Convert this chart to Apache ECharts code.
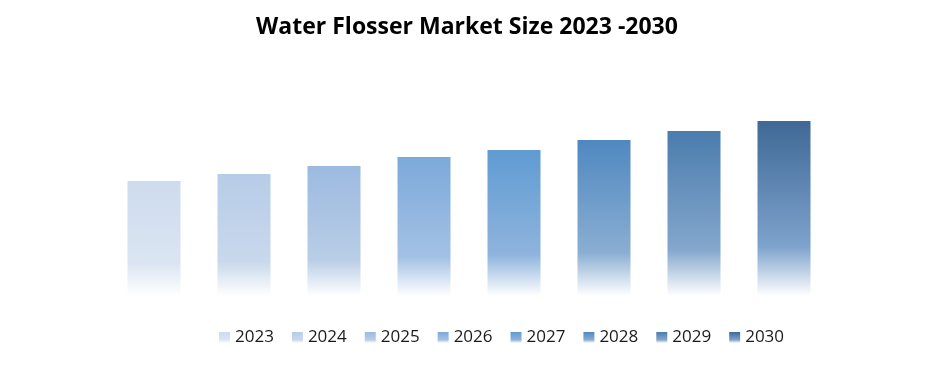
<!DOCTYPE html>
<html><head><meta charset="utf-8">
<script src="https://cdn.jsdelivr.net/npm/echarts@6/dist/echarts.min.js"></script>
<style>html,body{margin:0;padding:0;background:#fff}#c{width:934px;height:371px}</style>
</head><body><div id="c"></div>
<script>
const years = ['2023','2024','2025','2026','2027','2028','2029','2030'];
const values = [1.15, 1.22, 1.30, 1.39, 1.46, 1.56, 1.65, 1.75];
const topColors = ['#cddbee','#b7cce8','#9cbae1','#7ca9da','#5f9bd2','#4f88c0','#4a7cad','#3f6896'];
const midColors = ['#dbe5f2','#c9d8ec','#b9cde6','#a3c1e4','#8fb4dd','#8aaed2','#84a7cc','#7ea3cc'];

const series = years.map((y, i) => ({
  name: y,
  type: 'bar',
  stack: 'all',
  barWidth: 53,
  data: years.map((_, j) => j === i ? values[i] : '-'),
  itemStyle: {
    color: new echarts.graphic.LinearGradient(0, 0, 0, 1, [
      { offset: 0, color: topColors[i] },
      { offset: 0.72, color: midColors[i] },
      { offset: 1, color: '#ffffff' }
    ])
  }
}));

const chart = echarts.init(document.getElementById('c'), null, { renderer: 'canvas' });
chart.setOption({
  animation: false,
  backgroundColor: '#ffffff',
  title: {
    text: 'Water Flosser Market Size 2023 -2030',
    left: 'center', top: 11,
    textStyle: { fontFamily: 'Open Sans', fontWeight: 'bold', fontSize: 23, color: '#000' }
  },
  legend: {
    top: 324, left: 214,
    itemWidth: 11, itemHeight: 11, itemGap: 18,
    icon: 'rect',
    textStyle: { fontFamily: 'Open Sans', fontSize: 17, color: '#1a1a1a' },
    data: years
  },
  grid: { left: 109, width: 720, bottom: 75, top: 96 },
  xAxis: {
    type: 'category', data: years,
    axisLine: { show: false }, axisTick: { show: false }, axisLabel: { show: false }
  },
  yAxis: {
    type: 'value', min: 0, max: 2,
    axisLine: { show: false }, axisTick: { show: false }, axisLabel: { show: false },
    splitLine: { show: false }
  },
  series: series
});
</script>
</body></html>
